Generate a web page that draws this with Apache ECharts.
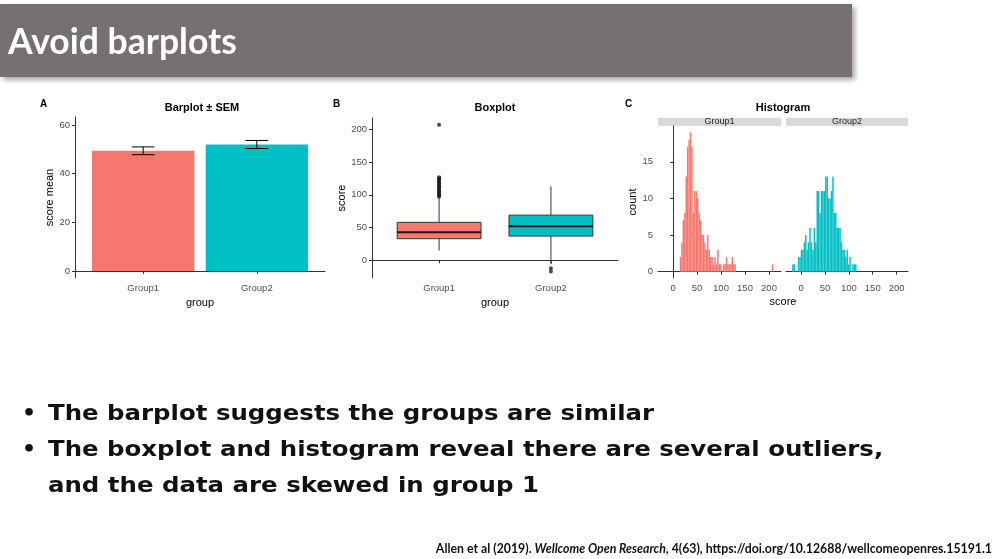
<!DOCTYPE html>
<html>
<head>
<meta charset="utf-8">
<script src="https://cdn.jsdelivr.net/npm/echarts@6/dist/echarts.min.js"></script>
<style>
  html, body { margin: 0; padding: 0; background: #fff; }
  #slide { width: 1000px; height: 559px; }
</style>
</head>
<body>
<div id="slide"></div>
<script>
// ---- data ----
var groups = ['Group1', 'Group2'];
var groupColors = ['#F8766D', '#00BFC4'];

// A: barplot, mean and SEM
var barMeans = [49.4, 52.0];
var barSem = [1.6, 1.65];

// B: boxplot [min, Q1, median, Q3, max]
var boxStats = [
    [15, 33, 43, 58, 95],
    [-6, 37, 52, 69, 113]
];
var outliersGroup1 = [97, 99, 101, 103, 105, 107, 109, 111, 113, 115, 117, 119, 121, 123, 125, 127, 207];
var outliersGroup2 = [-12, -17];

// C: histogram, bin left edges and counts
var binWidth = 3;
var g1Bins = [14, 17, 20, 23, 26, 29, 32, 35, 38, 41, 44, 47, 50, 53, 56, 59, 62, 65, 68, 71,
    74, 77, 80, 83, 86, 89, 92, 95, 98, 101, 104, 107, 110, 113, 116, 119, 122, 125, 128, 206];
var g1Counts = [2, 4, 7, 8, 13, 17, 18, 19, 17, 8, 11, 11, 10, 8, 7, 5, 5, 4, 3, 5,
    3, 2, 2, 1, 2, 1, 3, 1, 1, 0, 1, 1, 2, 1, 1, 1, 2, 1, 1, 1];
var g2Bins = [-19, -16, -13, -10, -7, -4, -1, 2, 5, 8, 11, 14, 17, 20, 23, 26, 29, 32, 35, 38,
    41, 44, 47, 50, 53, 56, 59, 62, 65, 68, 71, 74, 77, 80, 83, 86, 89, 92, 95, 98,
    101, 104, 107, 110, 113];
var g2Counts = [1, 1, 0, 0, 2, 2, 3, 3, 4, 5, 3, 4, 6, 4, 3, 6, 4, 11, 11, 8,
    11, 11, 11, 13, 13, 10, 10, 11, 13, 8, 8, 6, 6, 6, 4, 3, 3, 2, 3, 1,
    2, 0, 1, 1, 1];

var barTicks = [0, 20, 40, 60];
var boxTicks = [0, 50, 100, 150, 200];
var countTicks = [0, 5, 10, 15];
var scoreTicks = [0, 50, 100, 150, 200];

var bullets = [
    'The barplot suggests the groups are similar',
    'The boxplot and histogram reveal there are several outliers,',
    'and the data are skewed in group 1'
];

// ---- helpers ----
var FONT = 'Liberation Sans';
var tickColor = '#4d4d4d';
var BULLET_FONT = 'bold 22px DejaVu Sans';

function axisBase(extra) {
    var a = {
        axisLine: {show: true, lineStyle: {color: '#333', width: 1}},
        axisTick: {show: true, length: 3, lineStyle: {color: '#333', width: 1}},
        axisLabel: {color: tickColor, fontFamily: FONT, fontSize: 9.5, margin: 5},
        splitLine: {show: false},
        nameTextStyle: {color: '#000', fontFamily: FONT, fontSize: 11}
    };
    return Object.assign(a, extra);
}

function groupAxis(gridIndex) {
    var a = axisBase({type: 'value', gridIndex: gridIndex, min: 0.4, max: 2.6,
        name: 'group', nameLocation: 'middle', nameGap: 19});
    a.axisTick.customValues = [1, 2];
    a.axisLabel.customValues = [1, 2];
    a.axisLabel.formatter = function (v) { return groups[Math.round(v) - 1]; };
    return a;
}

function valueAxis(gridIndex, min, max, ticks, name, gap) {
    var a = axisBase({type: 'value', gridIndex: gridIndex, min: min, max: max,
        name: name, nameLocation: 'middle', nameGap: gap});
    a.axisTick.customValues = ticks;
    a.axisLabel.customValues = ticks;
    return a;
}

function histData(bins, counts) {
    var out = [];
    for (var i = 0; i < bins.length; i++) {
        out.push([bins[i], bins[i] + binWidth, counts[i]]);
    }
    return out;
}

function renderHist(color) {
    return function (params, api) {
        var p0 = api.coord([api.value(0), api.value(2)]);
        var p1 = api.coord([api.value(1), 0]);
        return {type: 'rect', shape: {x: p0[0], y: p0[1], width: p1[0] - p0[0], height: p1[1] - p0[1]},
            style: {fill: color}};
    };
}

function bulletText(x, y, text) {
    return {type: 'text', x: x, y: y, scaleX: 1.11,
        style: {text: text, font: BULLET_FONT, fill: '#111', verticalAlign: 'middle'}};
}

var barData = barMeans.map(function (m, i) { return [i + 1, m]; });
var errData = barMeans.map(function (m, i) { return [i + 1, m - barSem[i], m + barSem[i]]; });
var boxData = boxStats.map(function (s, i) { return [i + 1].concat(s); });
var outlierData = outliersGroup1.map(function (v) { return [1, v]; })
    .concat(outliersGroup2.map(function (v) { return [2, v]; }));

var chart = echarts.init(document.getElementById('slide'), null, {renderer: 'canvas'});

var option = {
    backgroundColor: '#fff',
    animation: false,
    textStyle: {fontFamily: FONT},
    grid: [
        {left: 75, top: 117, width: 250, height: 161},
        {left: 372, top: 118, width: 246, height: 160},
        {left: 658, top: 126, width: 123, height: 152},
        {left: 786, top: 126, width: 122, height: 152}
    ],
    xAxis: [
        groupAxis(0),
        groupAxis(1),
        valueAxis(2, -31.3, 225, scoreTicks, '', 0),
        valueAxis(3, -32, 224, scoreTicks, '', 0)
    ],
    yAxis: [
        valueAxis(0, -2.9, 63.3, barTicks, 'score mean', 17),
        valueAxis(1, -27, 217.3, boxTicks, 'score', 24),
        valueAxis(2, -0.86, 19.88, countTicks, 'count', 16),
        {type: 'value', gridIndex: 3, min: -0.86, max: 19.88, show: false}
    ],
    series: [
        {
            type: 'custom', name: 'mean', xAxisIndex: 0, yAxisIndex: 0,
            data: barData, encode: {x: 0, y: 1},
            renderItem: function (params, api) {
                var i = api.value(0);
                var p0 = api.coord([i - 0.45, api.value(1)]);
                var p1 = api.coord([i + 0.45, 0]);
                return {type: 'rect', shape: {x: p0[0], y: p0[1], width: p1[0] - p0[0], height: p1[1] - p0[1]},
                    style: {fill: groupColors[params.dataIndex]}};
            }
        },
        {
            type: 'custom', name: 'sem', xAxisIndex: 0, yAxisIndex: 0,
            data: errData, encode: {x: 0, y: [1, 2]}, z: 5,
            renderItem: function (params, api) {
                var i = api.value(0);
                var lo = api.coord([i, api.value(1)]);
                var hi = api.coord([i, api.value(2)]);
                var l = api.coord([i - 0.1, 0])[0];
                var r = api.coord([i + 0.1, 0])[0];
                var st = {stroke: '#000', lineWidth: 1};
                return {type: 'group', children: [
                    {type: 'line', shape: {x1: lo[0], y1: lo[1], x2: hi[0], y2: hi[1]}, style: st},
                    {type: 'line', shape: {x1: l, y1: lo[1], x2: r, y2: lo[1]}, style: st},
                    {type: 'line', shape: {x1: l, y1: hi[1], x2: r, y2: hi[1]}, style: st}
                ]};
            }
        },
        {
            type: 'custom', name: 'box', xAxisIndex: 1, yAxisIndex: 1,
            data: boxData, encode: {x: 0, y: [1, 2, 3, 4, 5]},
            renderItem: function (params, api) {
                var i = api.value(0);
                var pMin = api.coord([i, api.value(1)]);
                var pQ1 = api.coord([i, api.value(2)]);
                var pMed = api.coord([i, api.value(3)]);
                var pQ3 = api.coord([i, api.value(4)]);
                var pMax = api.coord([i, api.value(5)]);
                var l = api.coord([i - 0.375, 0])[0];
                var r = api.coord([i + 0.375, 0])[0];
                var line = {stroke: '#333', lineWidth: 1};
                return {type: 'group', children: [
                    {type: 'line', shape: {x1: pMin[0], y1: pMin[1], x2: pQ1[0], y2: pQ1[1]}, style: line},
                    {type: 'line', shape: {x1: pQ3[0], y1: pQ3[1], x2: pMax[0], y2: pMax[1]}, style: line},
                    {type: 'rect', shape: {x: l, y: pQ3[1], width: r - l, height: pQ1[1] - pQ3[1]},
                        style: {fill: groupColors[params.dataIndex], stroke: '#333', lineWidth: 1}},
                    {type: 'line', shape: {x1: l, y1: pMed[1], x2: r, y2: pMed[1]}, style: {stroke: '#1a1a1a', lineWidth: 2}}
                ]};
            }
        },
        {
            type: 'scatter', name: 'outliers', xAxisIndex: 1, yAxisIndex: 1,
            data: outlierData, symbolSize: 4, itemStyle: {color: '#1a1a1a'}
        },
        {
            type: 'custom', name: 'Group1', xAxisIndex: 2, yAxisIndex: 2,
            data: histData(g1Bins, g1Counts), encode: {x: [0, 1], y: 2},
            renderItem: renderHist(groupColors[0])
        },
        {
            type: 'custom', name: 'Group2', xAxisIndex: 3, yAxisIndex: 3,
            data: histData(g2Bins, g2Counts), encode: {x: [0, 1], y: 2},
            renderItem: renderHist(groupColors[1])
        }
    ],
    graphic: [
        // slide header
        {type: 'rect', shape: {x: 0, y: 4, width: 852, height: 73},
            style: {fill: '#767170', shadowBlur: 5, shadowOffsetX: 3, shadowOffsetY: 3, shadowColor: 'rgba(0,0,0,0.35)'}},
        {type: 'text', x: 8, y: 43, style: {text: 'Avoid barplots', fill: '#fff',
            font: 'bold 35.5px Lato', verticalAlign: 'middle'}},
        // panel letters and titles
        {type: 'text', x: 40, y: 104, style: {text: 'A', font: 'bold 10px ' + FONT, fill: '#000', verticalAlign: 'middle'}},
        {type: 'text', x: 202, y: 108, style: {text: 'Barplot ± SEM', font: 'bold 11px ' + FONT, fill: '#000', align: 'center', verticalAlign: 'middle'}},
        {type: 'text', x: 333, y: 104, style: {text: 'B', font: 'bold 10px ' + FONT, fill: '#000', verticalAlign: 'middle'}},
        {type: 'text', x: 495, y: 108, style: {text: 'Boxplot', font: 'bold 11px ' + FONT, fill: '#000', align: 'center', verticalAlign: 'middle'}},
        {type: 'text', x: 625, y: 104, style: {text: 'C', font: 'bold 10px ' + FONT, fill: '#000', verticalAlign: 'middle'}},
        {type: 'text', x: 783, y: 108, style: {text: 'Histogram', font: 'bold 11px ' + FONT, fill: '#000', align: 'center', verticalAlign: 'middle'}},
        // facet strips
        {type: 'rect', shape: {x: 658, y: 117.7, width: 123, height: 8.3}, style: {fill: '#d9d9d9'}},
        {type: 'text', x: 719.5, y: 122, style: {text: 'Group1', font: '9px ' + FONT, fill: '#1a1a1a', align: 'center', verticalAlign: 'middle'}},
        {type: 'rect', shape: {x: 786, y: 117.7, width: 122, height: 8.3}, style: {fill: '#d9d9d9'}},
        {type: 'text', x: 847, y: 122, style: {text: 'Group2', font: '9px ' + FONT, fill: '#1a1a1a', align: 'center', verticalAlign: 'middle'}},
        {type: 'text', x: 783, y: 302, style: {text: 'score', font: '11px ' + FONT, fill: '#000', align: 'center', verticalAlign: 'middle'}},
        // bullets
        {type: 'text', x: 22, y: 414, style: {text: '•', font: BULLET_FONT, fill: '#111', verticalAlign: 'middle'}},
        bulletText(48, 414, bullets[0]),
        {type: 'text', x: 22, y: 450, style: {text: '•', font: BULLET_FONT, fill: '#111', verticalAlign: 'middle'}},
        bulletText(48, 450, bullets[1]),
        bulletText(48, 486, bullets[2]),
        // citation
        {type: 'text', x: 992, y: 549, style: {
            text: '{a|Allen et al (2019). }{i|Wellcome Open Research}{a|, 4(63), https://doi.org/10.12688/wellcomeopenres.15191.1}',
            align: 'right', verticalAlign: 'middle',
            rich: {
                a: {fontFamily: 'Lato', fontWeight: 'bold', fontSize: 12.3, fill: '#111'},
                i: {fontFamily: 'Lato', fontWeight: 'bold', fontStyle: 'italic', fontSize: 12.3, fill: '#111'}
            }
        }}
    ]
};

chart.setOption(option);
</script>
</body>
</html>
